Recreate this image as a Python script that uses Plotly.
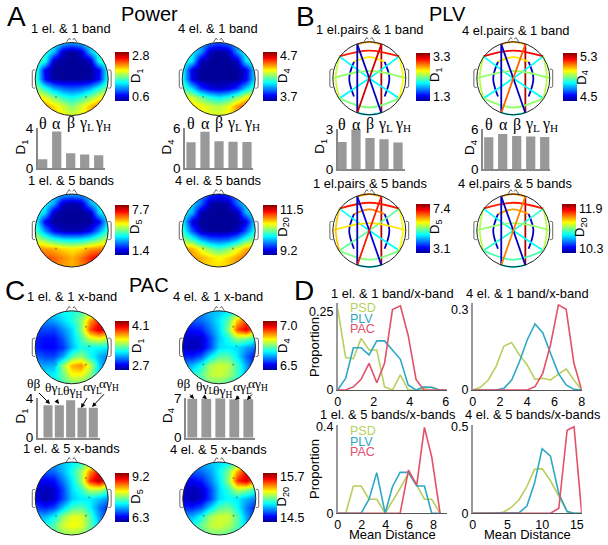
import numpy as np
import plotly.graph_objects as go
from plotly.colors import sample_colorscale

W, H = 608, 545
SANS = "Liberation Sans"
SERIF = "Liberation Serif"
JET = [[0, "rgb(0,0,143)"], [0.11, "rgb(0,0,255)"], [0.375, "rgb(0,255,255)"], [0.625, "rgb(255,255,0)"],
       [0.875, "rgb(255,0,0)"], [1, "rgb(128,0,0)"]]

# ---------- colourbar labels ----------
cb_A = [("0.6", "2.8"), ("3.7", "4.7"), ("1.4", "7.7"), ("9.2", "11.5")]
cb_B = [("1.3", "3.3"), ("4.5", "5.3"), ("3.1", "7.4"), ("10.3", "11.9")]
cb_C = [("2.7", "4.1"), ("6.5", "7.0"), ("6.3", "9.2"), ("14.5", "15.7")]
d_names = ["D<sub>1</sub>", "D<sub>4</sub>", "D<sub>5</sub>", "D<sub>20</sub>"]

# ---------- scalp maps: level on the colour bar (0-100), rows top to bottom ----------
topo_A1 = [[45,42,38,30,25,30,38,42,45],[45,42,30,5,1,5,30,42,45],[45,40,4,1,1,1,4,40,45],
           [44,10,1,1,1,1,1,10,44],[44,12,2,1,1,1,2,12,44],[52,40,28,22,20,22,28,40,52],
           [66,60,50,42,38,42,50,60,68],[74,72,66,58,50,58,68,76,80],[72,70,66,62,60,62,68,74,78]]
topo_A2 = [[40,36,30,22,18,22,30,36,40],[40,38,26,4,1,4,26,38,40],[40,36,4,1,1,1,4,36,40],
           [38,8,1,1,1,1,1,8,38],[38,10,1,1,1,1,1,10,38],[46,34,16,8,6,8,16,32,46],
           [62,58,48,40,35,40,50,62,68],[68,66,62,58,55,60,72,82,86],[66,64,62,60,60,62,72,82,86]]
topo_A3 = [[40,38,34,28,26,28,34,38,40],[40,38,28,5,2,5,28,38,40],[40,34,4,1,1,1,4,34,40],
           [40,10,1,1,1,1,1,10,40],[45,26,10,4,3,4,10,26,45],[58,50,42,37,36,37,42,50,58],
           [74,72,70,66,64,66,72,74,78],[82,80,78,74,70,76,84,90,90],[80,80,76,72,70,74,82,86,86]]
topo_A4 = [[35,32,26,16,12,16,26,32,35],[38,34,22,3,1,3,22,34,38],[38,30,3,1,1,1,3,30,38],
           [38,8,1,1,1,1,1,8,38],[42,20,4,1,1,1,4,20,42],[52,44,30,22,20,22,30,44,52],
           [72,70,60,50,44,50,60,70,74],[76,74,70,66,62,66,72,78,82],[72,70,68,66,66,68,72,78,80]]
topo_C1 = [[30,32,34,38,40,44,50,55,58],[25,25,28,34,40,50,72,84,82],[18,18,18,26,34,50,80,92,85],
           [14,12,12,20,32,44,58,62,55],[14,11,11,16,30,40,38,38,36],[22,18,18,28,46,52,40,30,24],
           [30,28,30,52,70,74,58,34,18],[36,36,36,48,62,62,52,36,22],[38,38,40,44,48,48,44,36,28]]
topo_C2 = [[22,24,26,30,32,36,44,50,50],[20,20,22,28,36,46,68,80,72],[12,12,14,24,34,50,80,90,70],
           [6,6,6,18,32,40,52,50,40],[6,4,6,18,34,36,34,28,22],[14,14,20,36,46,46,36,22,10],
           [28,30,40,54,58,56,44,28,12],[36,40,46,56,58,54,44,30,18],[38,40,42,48,48,44,38,30,24]]
topo_C3 = [[24,26,28,32,36,42,52,60,60],[20,20,22,30,40,52,74,88,82],[12,10,12,24,36,52,84,95,80],
           [6,4,6,18,34,42,56,56,44],[8,3,6,18,32,36,36,32,26],[18,14,18,32,44,46,38,24,14],
           [30,30,38,52,60,60,46,28,14],[38,40,46,58,62,60,48,34,20],[40,42,46,50,52,50,44,34,26]]
topo_C4 = [[24,26,28,32,34,38,48,56,56],[20,20,22,28,38,50,72,88,80],[12,10,14,24,36,52,84,92,72],
           [6,4,6,18,34,42,56,52,40],[6,3,6,18,34,38,36,30,24],[14,14,20,34,46,48,38,24,12],
           [28,30,40,54,58,58,46,28,14],[36,40,48,56,58,54,46,32,18],[38,40,44,48,48,46,38,30,24]]
topo_axis = [-1, -0.75, -0.5, -0.25, 0, 0.25, 0.5, 0.75, 1]

# electrodes visible as dots
dots_A_x, dots_A_y = [-0.43, 0.39], [-0.49, -0.49]
dots_C_x, dots_C_y = [0.39, 0.48, -0.43, 0.39], [0.56, 0.03, -0.47, -0.47]

# ---------- PLV network ----------
elec_x = [-0.33, 0.33, -0.82, 0.82, -1.0, 1.0, -0.82, 0.82, -0.33, 0.33, -0.42, 0.42, -0.42, 0.42]
elec_y = [0.93, 0.93, 0.60, 0.60, 0.0, 0.0, -0.55, -0.55, -0.95, -0.95, 0.45, 0.45, -0.50, -0.50]
edge_from = [0, 1, 2, 10, 10, 11, 2, 3, 4, 6, 2, 3, 0, 8, 0, 1]
edge_to   = [1, 9, 3, 11, 12, 13, 7, 6, 5, 7, 6, 7, 8, 9, 9, 8]
edge_midx = [0, 0.33, 0, 0, -0.55, 0.55, 0, 0, 0, 0, -0.92, 0.92, -0.33, 0, 0, 0]
edge_midy = [1.0, 0, 0.76, 0.58, 0, 0, 0, 0, 0.2, -0.80, 0, 0, 0, -1.0, 0, 0]
plv_B1 = [72, 95, 85, 65, 5, 5, 37, 37, 52, 50, 57, 62, 3, 35, 5, 92]
plv_B2 = [70, 95, 88, 65, 5, 5, 38, 38, 52, 52, 55, 55, 5, 38, 5, 78]
plv_B3 = [72, 95, 85, 75, 5, 5, 38, 47, 65, 50, 68, 62, 3, 35, 8, 85]
plv_B4 = [72, 95, 85, 72, 5, 5, 38, 42, 52, 45, 55, 55, 5, 38, 5, 75]

# ---------- bars ----------
band_labels = ["θ", "α", "β", "γ<sub>L</sub>", "γ<sub>H</sub>"]
xband_labels = ["θβ", "θγ<sub>L</sub>", "θγ<sub>H</sub>", "αγ<sub>L</sub>", "αγ<sub>H</sub>"]
bars_A1 = [0.9, 3.67, 1.5, 1.37, 1.3]
bars_A2 = [3.9, 5.5, 4.05, 4.0, 3.95]
bars_B1 = [2.04, 3.0, 2.34, 2.24, 2.0]
bars_B2 = [4.8, 5.3, 5.0, 4.9, 4.85]
bars_C1 = [3.3, 3.3, 3.8, 3.05, 3.05]
bars_C2 = [6.9, 6.9, 7.0, 6.85, 6.85]

# ---------- distance distributions ----------
d1_x = [0, .44, .87, 1.3, 1.74, 2.17, 2.6, 3.04, 3.48, 3.91, 4.35, 4.78, 5.22, 5.65, 6.05]
d1_psd = [.26, .104, .10, .165, .128, .128, .01, 0, .048, 0, 0, .005, .01, 0, 0]
d1_plv = [0, .037, .135, .135, .112, .157, .157, .128, .098, .016, 0, .01, .008, 0, 0]
d1_pac = [0, 0, .01, .034, .085, .023, .085, .257, .269, .175, .034, 0, 0, 0, 0]
d2_x = [0, .57, 1.14, 1.71, 2.29, 2.86, 3.43, 4, 4.57, 5.14, 5.71, 6.29, 6.86, 7.43, 8]
d2_psd = [0, .01, .0375, .0875, .165, .1775, .131, .094, .04, .044, .0375, .06, .079, .0375, 0]
d2_plv = [0, 0, 0, 0, .006, .0375, .106, .1875, .2475, .215, .1375, .0625, .019, .0025, 0]
d2_pac = [0, 0, 0, 0, 0, 0, 0, 0, .0125, .0625, .169, .319, .3025, .1, 0]
d3_x = [0, .67, 1.31, 1.95, 2.62, 3.26, 3.96, 4.57, 5.21, 5.91, 6.6, 7.24, 7.85, 8.55]
d3_psd = [0, 0, .126, .126, .065, .065, 0, .054, .115, .185, .13, .065, .065, 0]
d3_plv = [0, 0, 0, 0, .065, .188, 0, .123, .189, .189, .126, .126, 0, 0]
d3_pac = [0, 0, 0, 0, 0, 0, 0, 0, 0, .2, .13, .397, .26, 0]
d4_x = [0, 1.1, 2.2, 3.3, 4.4, 5.6, 6.7, 7.8, 8.9, 10, 11.2, 12.4, 13.6, 14.6, 15.7]
d4_psd = [0, 0, 0, 0, .006, .035, .08, .154, .254, .258, .188, .096, .01, 0, 0]
d4_plv = [0, 0, 0, 0, 0, 0, .004, .042, .173, .373, .33, .115, .01, 0, 0]
d4_pac = [0, 0, 0, 0, 0, 0, 0, 0, 0, 0, 0, .029, .48, .5, 0]
series_names = ["PSD", "PLV", "PAC"]
series_colors = ["#B7CF5C", "#2FA8C6", "#E2506A"]

# ---------- helpers ----------
fig = go.Figure()
layout_axes, shapes, annotations = {}, [], []
n_axes = 0


def px(x):
    return x / W


def py(y):
    return 1 - y / H


def new_axes(left, right, top, bottom, xopts, yopts):
    global n_axes
    n_axes += 1
    s = "" if n_axes == 1 else str(n_axes)
    layout_axes["xaxis" + s] = dict(domain=[px(left), px(right)], anchor="y" + s, fixedrange=True,
                                    showgrid=False, zeroline=False, **xopts)
    layout_axes["yaxis" + s] = dict(domain=[py(bottom), py(top)], anchor="x" + s, fixedrange=True,
                                    showgrid=False, zeroline=False, **yopts)
    return "x" + s, "y" + s


def text(x, y, s, size=13, family=SANS, angle=0, xanchor="center", color="black"):
    annotations.append(dict(x=px(x), y=py(y), xref="paper", yref="paper", text=s, showarrow=False,
                            font=dict(family=family, size=size, color=color), textangle=angle,
                            xanchor=xanchor, yanchor="middle"))


def arrow(x0, y0, x1, y1):
    annotations.append(dict(x=px(x1), y=py(y1), xref="paper", yref="paper", ax=x0 - x1, ay=y0 - y1,
                            axref="pixel", ayref="pixel", text=" ", showarrow=True, arrowhead=2,
                            arrowsize=0.9, arrowwidth=1, arrowcolor="black"))


theta = np.linspace(0, 2 * np.pi, 121)[:-1]
ring = " ".join(f"{'M' if i == 0 else 'L'}{np.cos(t):.4f},{np.sin(t):.4f}" for i, t in enumerate(theta)) + " Z"
MASK = "M-1.2,-1.2 L1.2,-1.2 L1.2,1.2 L-1.2,1.2 Z " + ring


def head_shapes(xa, ya, mask):
    base = dict(xref=xa, yref=ya)
    line = dict(color="#222", width=1)
    soft = dict(color="#666", width=1)
    if mask:
        shapes.append(dict(type="path", path=MASK, fillcolor="white", line=dict(width=0), **base))
    shapes.append(dict(type="circle", x0=-1, x1=1, y0=-1, y1=1, line=line, **base))
    shapes.append(dict(type="path", path="M-0.15,1 L-0.07,1.12 L-0.03,1.07 M0.03,1.07 L0.07,1.12 L0.15,1",
                       line=soft, **base))
    for s in (-1, 1):
        shapes.append(dict(type="path",
                           path=f"M{s},0.25 L{s*1.04},0.25 Q{s*1.08},0.25 {s*1.08},0.2 L{s*1.08},-0.2 "
                                f"Q{s*1.08},-0.25 {s*1.04},-0.25 L{s},-0.25",
                           line=soft, **base))


def head_axes(cx, cy, r=36.5):
    k = 1.25
    hidden = dict(visible=False, range=[-k, k])
    return new_axes(cx - r * k, cx + r * k, cy - r * k, cy + r * k, hidden, hidden)


def colorbar(labels, left, top, bottom):
    return dict(x=px(left), xanchor="left", xpad=0, y=py(bottom), yanchor="bottom", ypad=0,
                len=bottom - top, lenmode="pixels", thickness=13.5, thicknessmode="pixels",
                outlinewidth=0, ticks="", tickvals=[float(labels[0]), float(labels[1])],
                ticktext=list(labels), tickfont=dict(family=SANS, size=12.5, color="black"))


def topo(levels, labels, cx, cy, cb_left, cb_top, cb_bottom):
    xa, ya = head_axes(cx, cy)
    lo, hi = float(labels[0]), float(labels[1])
    z = lo + (np.array(levels, float) - 9) / 82 * (hi - lo)
    fig.add_trace(go.Heatmap(z=z, x=topo_axis, y=topo_axis[::-1], colorscale=JET, zsmooth="best",
                             zmin=lo - 9 / 82 * (hi - lo), zmax=hi + 9 / 82 * (hi - lo), hoverinfo="skip",
                             colorbar=colorbar(labels, cb_left, cb_top, cb_bottom), xaxis=xa, yaxis=ya))
    fig.add_trace(go.Scatter(x=dots[0], y=dots[1], mode="markers", xaxis=xa, yaxis=ya, hoverinfo="skip",
                             marker=dict(size=2, color="#555", opacity=0.6), showlegend=False))
    head_shapes(xa, ya, True)


def network(levels, labels, cx, cy, cb_left, cb_top, cb_bottom):
    xa, ya = head_axes(cx, cy)
    lo, hi = float(labels[0]), float(labels[1])
    for a, b, mx, my, lev in zip(edge_from, edge_to, edge_midx, edge_midy, levels):
        fig.add_trace(go.Scatter(x=[elec_x[a], mx, elec_x[b]], y=[elec_y[a], my, elec_y[b]], mode="lines",
                                 xaxis=xa, yaxis=ya, hoverinfo="skip", showlegend=False,
                                 line=dict(shape="spline", width=1.8,
                                           color=sample_colorscale(JET, lev / 100)[0])))
    # carrier of the colour bar, outside the visible range
    fig.add_trace(go.Heatmap(z=[[lo - 9 / 82 * (hi - lo), hi + 9 / 82 * (hi - lo)]], x=[5, 6], y=[5],
                             colorscale=JET, hoverinfo="skip", xaxis=xa, yaxis=ya,
                             colorbar=colorbar(labels, cb_left, cb_top, cb_bottom)))
    head_shapes(xa, ya, False)


def bars(values, ymax, left, right, top, bottom, c0, step, gap):
    xo = dict(range=[(left - c0) / step, (right - c0) / step], showline=True, linecolor="#888", linewidth=1.5,
              showticklabels=False, ticks="")
    yo = dict(range=[0, ymax], showline=True, linecolor="#888", linewidth=1.5, tickvals=[0, ymax], ticks="",
              tickfont=dict(family=SANS, size=13.5, color="black"))
    xa, ya = new_axes(left, right, top, bottom, xo, yo)
    fig.add_trace(go.Bar(x=list(range(5)), y=values, marker=dict(color="#999999", line=dict(width=0)),
                         width=1 - gap, xaxis=xa, yaxis=ya, hoverinfo="skip", showlegend=False))


def lines(x, ys, xmax, ymax, xticks, ytick, ytext, left, right, top, bottom):
    xo = dict(range=[0, xmax], showline=True, linecolor="#555", linewidth=1, tickvals=xticks, ticks="",
              tickfont=dict(family=SANS, size=12.5, color="black"))
    yo = dict(range=[0, ymax], showline=True, linecolor="#999", linewidth=1.5, tickvals=[0, ytick],
              ticktext=["0", ytext], ticks="", tickfont=dict(family=SANS, size=12.5, color="black"))
    xa, ya = new_axes(left, right, top, bottom, xo, yo)
    for y, name, col in zip(ys, series_names, series_colors):
        fig.add_trace(go.Scatter(x=x, y=y, mode="lines", name=name, xaxis=xa, yaxis=ya, hoverinfo="skip",
                                 showlegend=False, cliponaxis=False, line=dict(color=col, width=1.6)))


# ---------- Panel A ----------
dots = (dots_A_x, dots_A_y)
topo(topo_A1, cb_A[0], 71.7, 79, 115, 52, 100.7)
topo(topo_A2, cb_A[1], 218.7, 79, 262.5, 52, 100.7)
topo(topo_A3, cb_A[2], 71.7, 230.5, 115, 205, 255)
topo(topo_A4, cb_A[3], 218.7, 230.5, 263, 205, 255)
bars(bars_A1, 4, 37.7, 105, 128.3, 168.3, 42.7, 14, 0.34)
bars(bars_A2, 6, 185, 253, 128.3, 168.3, 191, 14, 0.34)

# ---------- Panel B ----------
network(plv_B1, cb_B[0], 369.3, 78.3, 415.7, 52.7, 100.7)
network(plv_B2, cb_B[1], 513.3, 78.3, 562.7, 52.7, 100.7)
network(plv_B3, cb_B[2], 369.3, 230.5, 415.7, 204, 253)
network(plv_B4, cb_B[3], 513.3, 230.5, 561.7, 204, 253)
bars(bars_B1, 3, 337.7, 405, 129.3, 169, 342, 14, 0.34)
bars(bars_B2, 6, 483, 550, 129.3, 169, 488.7, 14, 0.34)

# ---------- Panel C ----------
dots = (dots_C_x, dots_C_y)
topo(topo_C1, cb_C[0], 71.7, 347.3, 115, 320.7, 370)
topo(topo_C2, cb_C[1], 219, 347.3, 262.7, 320.7, 370)
topo(topo_C3, cb_C[2], 71.7, 498.5, 115, 472.7, 521.7)
topo(topo_C4, cb_C[3], 219.3, 498.5, 262.7, 472.7, 521.7)
bars(bars_C1, 4, 37.7, 100, 398.3, 437.7, 48, 11.33, 0.2)
bars(bars_C2, 7, 186, 255, 398.3, 437.7, 192.3, 14, 0.3)

# ---------- Panel D ----------
lines(d1_x, [d1_psd, d1_plv, d1_pac], 6.05, .277, [0, 2, 4, 6], .25, "0.25", 337.7, 446.7, 303.3, 390)
lines(d2_x, [d2_psd, d2_plv, d2_pac], 8, .325, [0, 2, 4, 6, 8], .3, "0.3", 472.7, 581.7, 303.3, 390)
lines(d3_x, [d3_psd, d3_plv, d3_pac], 9.1, .408, [0, 2, 4, 6, 8], .4, "0.4", 337.7, 446.7, 425, 513.3)
lines(d4_x, [d4_psd, d4_plv, d4_pac], 15.7, .51, [0, 5, 10, 15], .5, "0.5", 472.7, 581.7, 425, 513.3)

# ---------- Text ----------
for s, x, y in [("A", 16, 17), ("B", 305, 17), ("C", 15, 290), ("D", 304, 290)]:
    text(x, y, s, size=28)
for s, x, y in [("Power", 149, 14), ("PLV", 447.7, 14), ("PAC", 149, 285)]:
    text(x, y, s, size=20)
for s, x, y in [("1 el. &amp; 1 band", 71, 29), ("4 el. &amp; 1 band", 218, 29),
                ("1 el. &amp; 5 bands", 71, 180.7), ("4 el. &amp; 5 bands", 218, 180.7),
                ("1 el.pairs &amp; 1 band", 370, 29.5), ("4 el.pairs &amp; 1 band", 515.7, 30),
                ("1 el.pairs &amp; 5 bands", 370, 183), ("4 el.pairs &amp; 5 bands", 515, 183),
                ("1 el. &amp; 1 x-band", 71.7, 296.7), ("4 el. &amp; 1 x-band", 218, 296.7),
                ("1 el. &amp; 5 x-bands", 71, 448.3), ("4 el. &amp; 5 x-bands", 218, 449.3),
                ("1 el. &amp; 1 band/x-band", 392.7, 293.3), ("4 el. &amp; 1 band/x-band", 527.3, 293.3),
                ("1 el. &amp; 5 bands/x-bands", 387, 414.3), ("4 el. &amp; 5 bands/x-bands", 532, 414.3)]:
    text(x, y, s, size=12.9)
for name, x, y in zip(d_names * 3,
                      [136, 283, 135, 282.7, 435, 581.7, 435, 580, 137, 283, 137, 282.7],
                      [76, 76, 227, 227, 75, 78, 227, 227, 346, 346, 496.7, 496.7]):
    text(x, y, name, size=13, angle=-90)
for name, x, y in [(d_names[0], 21.7, 146.7), (d_names[1], 167.7, 146.7), (d_names[0], 321, 146.7),
                   (d_names[1], 470, 148), (d_names[0], 21.7, 415.7), (d_names[1], 168.3, 415.7)]:
    text(x, y, name, size=13.5, angle=-90)
band_shift = [0, 0, 0, 1.5, 4.5]
for c0, y in [(42.7, 123), (191, 123), (342, 124), (489, 125)]:
    for i, s in enumerate(band_labels):
        text(c0 + 14 * i + band_shift[i], y, s, size=16, family=SERIF)
for xs, ys, tails, tips in [([33, 54, 72, 92, 109], [383, 388, 391, 387, 384],
                             [(36, 390), (53, 396), (72, 397), (90, 393), (107, 391)],
                             [(50, 404), (59, 404), (71, 400), (81, 408), (92, 407)]),
                            ([183, 205, 222, 242, 258], [383, 387, 391, 387, 384],
                             [(187, 391), (202, 395), (220, 397), (242, 394), (255, 391)],
                             [(194, 399), (207, 399), (220, 399), (235, 400), (247, 400)])]:
    for x, y, s in zip(xs, ys, xband_labels):
        text(x, y, s, size=13.5, family=SERIF)
    for (a, b), (c, d) in zip(tails, tips):
        arrow(a, b, c, d)
for ys in ([308.3, 319, 329.3], [431, 441.7, 451.7]):
    for y, s, c in zip(ys, series_names, series_colors):
        text(347.7, y, s, size=12.5, xanchor="left", color=c)
for y in (347, 469):
    text(314, y, "Proportion", size=13, angle=-90)
for x in (392, 527):
    text(x, 534, "Mean Distance", size=13)

fig.update_layout(width=W, height=H, autosize=False, margin=dict(l=0, r=0, t=0, b=0, pad=0, autoexpand=False),
                  paper_bgcolor="white", plot_bgcolor="rgba(0,0,0,0)", showlegend=False,
                  shapes=shapes, annotations=annotations, **layout_axes)
fig.write_html("out.html", config={"displayModeBar": False},
               post_script="document.body.style.margin='0';document.body.style.overflow='hidden';")
